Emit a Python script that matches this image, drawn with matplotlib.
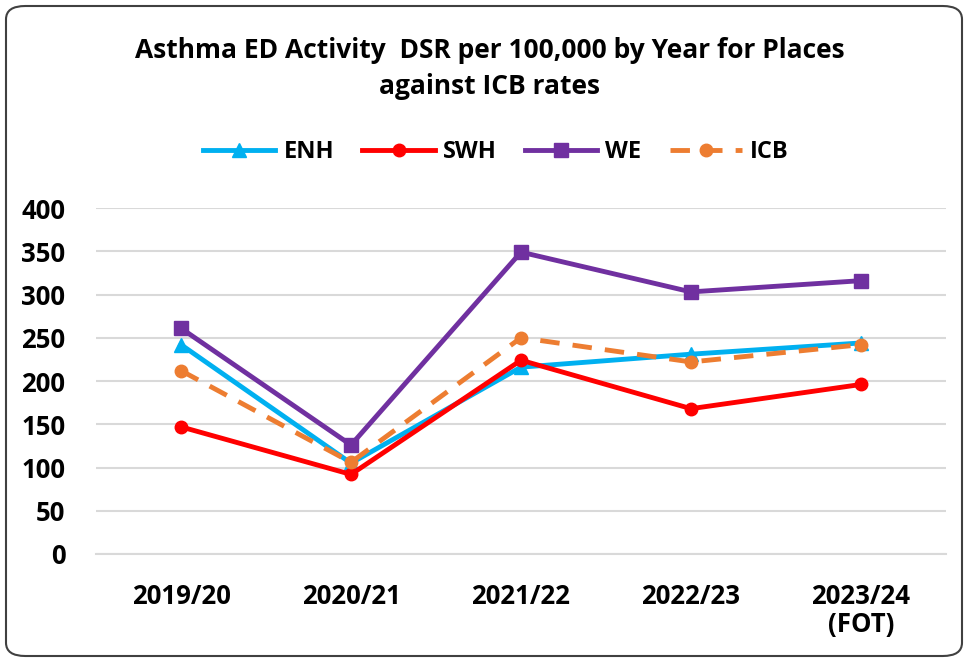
import matplotlib.pyplot as plt
from matplotlib.patches import FancyBboxPatch

years = ['2019/20', '2020/21', '2021/22', '2022/23', '2023/24\n(FOT)']
enh = [242, 105, 216, 231, 244]
swh = [147, 92, 224, 168, 196]
we = [261, 126, 349, 303, 316]
icb = [212, 106, 250, 222, 242]

plt.rcParams['font.family'] = ['Open Sans', 'DejaVu Sans']

fig = plt.figure(figsize=(9.68, 6.62), dpi=100)
ax = fig.add_axes([96/968, 1-554/662, 850/968, 346/662])

x = list(range(len(years)))
ax.plot(x, enh, color='#00B0F0', lw=3.5, marker='^', ms=10, label='ENH', zorder=3)
ax.plot(x, swh, color='#FF0000', lw=3.5, marker='o', ms=9, label='SWH', zorder=4)
ax.plot(x, we, color='#7030A0', lw=3.5, marker='s', ms=10, label='WE', zorder=3)
ax.plot(x, icb, color='#ED7D31', lw=3.5, marker='o', ms=9, ls=(0, (4, 2.7)), label='ICB', zorder=5)

ax.set_xlim(-0.5, 4.5)
ax.set_ylim(0, 400)
ax.set_yticks(range(0, 401, 50))
ax.set_xticks(x)
ax.set_xticklabels(years, linespacing=1.05)
ax.yaxis.grid(True, color='#d9d9d9', lw=1.5)
ax.set_axisbelow(True)
for s in ['top', 'right', 'left']:
    ax.spines[s].set_visible(False)
ax.spines['bottom'].set_color('#d9d9d9')
ax.spines['bottom'].set_linewidth(1.5)
ax.tick_params(length=0, labelsize=18.5)
ax.tick_params(axis='x', pad=21)
ax.tick_params(axis='y', pad=22)
for lab in ax.get_xticklabels() + ax.get_yticklabels():
    lab.set_fontweight('bold')

fig.text(0.506, 1-50/662, 'Asthma ED Activity  DSR per 100,000 by Year for Places',
         ha='center', va='center', fontsize=19, fontweight='bold')
fig.text(0.506, 1-87/662, 'against ICB rates', ha='center', va='center',
         fontsize=19, fontweight='bold')

fig.legend(loc='center', bbox_to_anchor=(496/968, 1-152/662), ncol=4, frameon=False,
           prop={'size': 17, 'weight': 'bold'}, handlelength=3.05, columnspacing=1.2,
           handletextpad=0.35)

box = FancyBboxPatch((6/968, 6/662), 956/968, 650/662, boxstyle='round,pad=0,rounding_size=0.02',
                     transform=fig.transFigure, fill=False, ec='#404040', lw=1.5)
fig.patches.append(box)

fig.savefig('out.png', dpi=100)
